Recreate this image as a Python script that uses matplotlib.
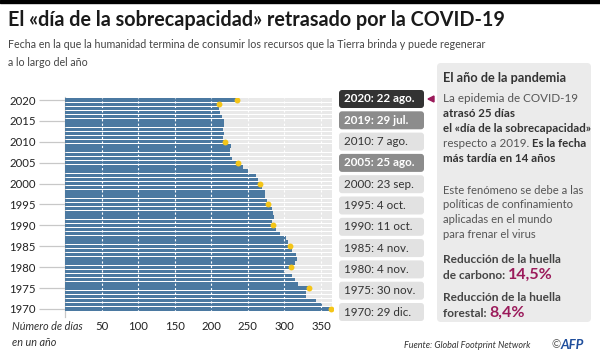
import matplotlib
matplotlib.use("Agg")
import matplotlib.pyplot as plt
from matplotlib.patches import FancyBboxPatch, Rectangle, Polygon

plt.rcParams['font.family'] = ['Lato', 'DejaVu Sans']

# data (day of the year of overshoot day)
years = list(range(1970, 2021))
days = [363, 352, 343, 329, 329, 334, 319, 314, 310, 301,
        309, 314, 317, 316, 310, 308, 305, 302, 294, 288,
        284, 283, 286, 285, 283, 277, 276, 274, 273, 270,
        267, 264, 261, 250, 244, 237, 228, 225, 226, 227,
        219, 216, 217, 216, 217, 217, 215, 212, 210, 210,
        235]
label_years = [2020, 2019, 2010, 2005, 2000, 1995, 1990, 1985, 1980, 1975, 1970]
label_texts = ["2020: 22 ago.", "2019: 29 jul.", "2010: 7 ago.", "2005: 25 ago.",
               "2000: 23 sep.", "1995: 4 oct.", "1990: 11 oct.", "1985: 4 nov.",
               "1980: 4 nov.", "1975: 30 nov.", "1970: 29 dic."]
label_style = ["dark", "mid", "light", "mid", "light", "light", "light",
               "light", "light", "light", "light"]
carbono = "14,5%"
forestal = "8,4%"

W, H = 600, 360
fig = plt.figure(figsize=(6, 3.6), dpi=100)

# overlay in pixel units for texts and boxes
ov = fig.add_axes([0, 0, 1, 1], zorder=0)
ov.set_xlim(0, W)
ov.set_ylim(H, 0)
ov.axis('off')

BLUE = '#4b79a1'
BG = '#e9e9e9'
MAROON = '#9b1b5b'

# chart
ax = fig.add_axes([65 / W, (H - 311.5) / H, 267.7 / W, 214 / H], zorder=2)
ax.patch.set_alpha(0)
ax.barh(years, [365] * len(years), height=0.8, color=BG, zorder=1)
ax.barh(years, days, height=0.8, color=BLUE, zorder=2)
for v in range(50, 351, 50):
    ax.axvline(v, color='white', lw=0.8, ls=(0, (2, 2)), zorder=3)
dot_days = [days[years.index(y)] for y in label_years]
ax.scatter(dot_days, label_years, s=18, color='#f4c518', zorder=4, linewidths=0)
ax.plot([0, 0], [2020.6, 1968.0], color='#c8c8c8', lw=0.9, clip_on=False, zorder=0)
ax.set_xlim(0, 366)
ax.set_ylim(1969.4, 2020.6)
ax.set_yticks(range(1970, 2021, 5))
ax.set_xticks(range(50, 351, 50))
ax.tick_params(axis='y', length=19, color='#c8c8c8', width=0.9, labelsize=8.2,
               labelcolor='#222222', pad=2)
ax.tick_params(axis='x', length=0, labelsize=8.2, labelcolor='#222222', pad=7)
for s in ax.spines.values():
    s.set_visible(False)

# header
ov.add_patch(Rectangle((0, 0), W, 3, color='black'))
ov.text(8, 20, "El «día de la sobrecapacidad» retrasado por la COVID-19",
        fontsize=14.2, fontweight='bold', color='#1a1a1a', va='center')
ov.text(8, 45, "Fecha en la que la humanidad termina de consumir los recursos que la Tierra brinda y puede regenerar",
        fontsize=7.7, color='#444444', va='center')
ov.text(8, 62, "a lo largo del año", fontsize=7.7, color='#444444', va='center')

ov.text(12, 327, "Número de días", fontsize=7.8, style='italic', color='#333333', va='center')
ov.text(12, 342, "en un año", fontsize=7.8, style='italic', color='#333333', va='center')

# date labels
styles = {"dark": ('#333333', 'white', 'bold'),
          "mid": ('#8c8c8c', 'white', 'bold'),
          "light": ('#e2e2e2', '#333333', 'normal')}
for i, (txt, st) in enumerate(zip(label_texts, label_style)):
    yc = 99 + i * 21.3
    fc, tc, fw = styles[st]
    ov.add_patch(FancyBboxPatch((339, yc - 9), 85, 18,
                                boxstyle="round,pad=0,rounding_size=3",
                                fc=fc, ec='none'))
    ov.text(344, yc, txt, fontsize=8.4, color=tc, fontweight=fw, va='center')
ov.add_patch(Polygon([[428, 99], [434, 96], [434, 102]], closed=True, color=MAROON))

# right panel
ov.add_patch(FancyBboxPatch((437, 63), 154, 259,
                            boxstyle="round,pad=0,rounding_size=4",
                            fc='#ebebeb', ec='none'))
fig.canvas.draw()
rend = fig.canvas.get_renderer()


def line(x, y, parts):
    for s, fw, col, fs in parts:
        t = ov.text(x, y, s, fontsize=fs, fontweight=fw, color=col, va='baseline')
        x += t.get_window_extent(rend).width


DK = '#333333'
GR = '#555555'
line(443, 82, [("El año de la pandemia", 'bold', DK, 9.2)])
line(443, 102, [("La epidemia de COVID-19", 'normal', GR, 8.4)])
line(443, 117, [("atrasó 25 días", 'bold', DK, 8.3)])
line(443, 132, [("el «día de la sobrecapacidad»", 'bold', DK, 8.3)])
line(443, 147, [("respecto a 2019. ", 'normal', GR, 8.4), ("Es la fecha", 'bold', DK, 8.3)])
line(443, 162, [("más tardía en 14 años", 'bold', DK, 8.3)])
line(443, 194, [("Este fenómeno se debe a las", 'normal', GR, 8.1)])
line(443, 208.5, [("políticas de confinamiento", 'normal', GR, 8.1)])
line(443, 223, [("aplicadas en el mundo", 'normal', GR, 8.1)])
line(443, 237.5, [("para frenar el virus", 'normal', GR, 8.1)])
line(443, 263, [("Reducción de la huella", 'bold', '#444444', 8.6)])
line(443, 279, [("de carbono: ", 'bold', '#444444', 8.6), (carbono, 'bold', MAROON, 11.5)])
line(443, 301, [("Reducción de la huella", 'bold', '#444444', 8.6)])
line(443, 317, [("forestal: ", 'bold', '#444444', 8.6), (forestal, 'bold', MAROON, 11.5)])

# footer
ov.text(530, 346, "Fuente: Global Footprint Network", fontsize=6.5, style='italic',
        color='#333333', ha='right', va='center')
ov.text(552, 345, "©", fontsize=8, color='#555555', va='center')
ov.text(561, 345, "AFP", fontsize=9.5, fontweight='bold', style='italic',
        color='#1f4e9c', va='center')

fig.savefig("out.png", dpi=100)
